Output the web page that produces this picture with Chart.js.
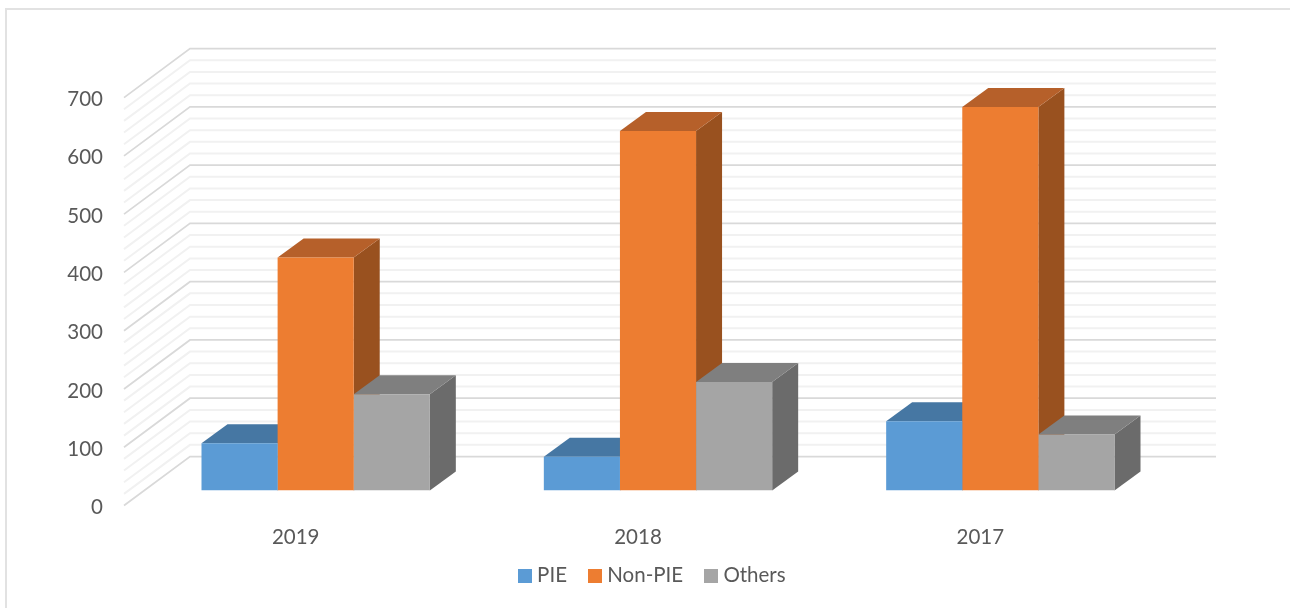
<!DOCTYPE html>
<html>
<head>
<meta charset="utf-8">
<style>
html,body{margin:0;padding:0;background:#fff;overflow:hidden}
#wrap{position:absolute;left:0;top:0;width:1290px;height:608px}
</style>
<script src="https://cdn.jsdelivr.net/npm/chart.js@4"></script>
</head>
<body>
<div id="wrap"><canvas id="c" width="1290" height="608"></canvas></div>
<script>
const categories = ['2019', '2018', '2017'];
const seriesNames = ['PIE', 'Non-PIE', 'Others'];
const pieValues = [81, 58, 119];
const nonPieValues = [400, 617, 658];
const otherValues = [165, 186, 96];
const frontColors = ['#5b9bd5', '#ed7d31', '#a5a5a5'];
const topColors = ['#4677a3', '#b6602a', '#7f7f7f'];
const sideColors = ['#3d678e', '#99511f', '#6b6b6b'];

const FONT = 'Lato, Carlito, sans-serif';
const TEXT = '#595959';

function swatch(color) {
  const s = document.createElement('canvas');
  s.width = 14; s.height = 14;
  const g = s.getContext('2d');
  g.fillStyle = color;
  g.fillRect(0, 0, 14, 14);
  return s;
}

function poly(ctx, pts, fill) {
  ctx.beginPath();
  ctx.moveTo(pts[0][0], pts[0][1]);
  for (let i = 1; i < pts.length; i++) ctx.lineTo(pts[i][0], pts[i][1]);
  ctx.closePath();
  ctx.fillStyle = fill;
  ctx.fill();
}

const perspective = {
  id: 'perspective',
  afterLayout(chart) {
    const lg = chart.legend;
    lg.left += 64.5; lg.right += 64.5;
    lg.top -= 12; lg.bottom -= 12;
  },
  beforeDatasetsDraw(chart) {
    const ctx = chart.ctx;
    const y = chart.scales.y;
    ctx.save();
    // outer frame of the chart
    ctx.strokeStyle = '#e2e2e2';
    ctx.lineWidth = 2;
    ctx.beginPath();
    ctx.moveTo(6, 608); ctx.lineTo(6, 9); ctx.lineTo(1290, 9);
    ctx.stroke();
    // walls: side wall + back wall gridlines at every scale tick
    y.ticks.slice().sort((a, b) => a.value - b.value).forEach(t => {
      const p = y.getPixelForValue(t.value);
      const major = t.value % 100 === 0;
      ctx.strokeStyle = major ? '#d9d9d9' : '#f1f1f1';
      ctx.lineWidth = major ? 1.75 : 2;
      ctx.beginPath();
      ctx.moveTo(124, p + 15);
      ctx.lineTo(190, p - 34);
      ctx.lineTo(1216, p - 34);
      ctx.stroke();
    });
    // bar depth faces
    const dx = 26, dy = 19;
    chart.data.datasets.forEach((ds, i) => {
      chart.getDatasetMeta(i).data.forEach(b => {
        const l = b.x - b.width / 2, r = b.x + b.width / 2;
        poly(ctx, [[r, b.y], [r + dx, b.y - dy], [r + dx, b.base - dy], [r, b.base]], sideColors[i]);
        poly(ctx, [[l, b.y], [l + dx, b.y - dy], [r + dx, b.y - dy], [r, b.y]], topColors[i]);
      });
    });
    ctx.restore();
  }
};

new Chart(document.getElementById('c'), {
  type: 'bar',
  plugins: [perspective],
  data: {
    labels: categories,
    datasets: [
      { label: seriesNames[0], data: pieValues, backgroundColor: frontColors[0] },
      { label: seriesNames[1], data: nonPieValues, backgroundColor: frontColors[1] },
      { label: seriesNames[2], data: otherValues, backgroundColor: frontColors[2] }
    ]
  },
  options: {
    responsive: false,
    animation: false,
    events: [],
    layout: { padding: { left: 8, right: 118.5, top: 82.6, bottom: 0 } },
    datasets: { bar: { categoryPercentage: 0.667, barPercentage: 1, borderWidth: 0 } },
    scales: {
      x: {
        grid: { display: false, drawTicks: false },
        border: { display: false },
        ticks: {
          color: TEXT, font: { family: FONT, size: 20.5 }, padding: 35,
          labelOffset: -20, maxRotation: 0
        },
        afterFit(s) { s.height = 61; }
      },
      y: {
        min: 0, max: 700,
        grid: { display: false, drawTicks: false },
        border: { display: false },
        ticks: {
          stepSize: 20, autoSkip: false, color: TEXT,
          font: { family: FONT, size: 20.5 }, padding: 41.5, labelOffset: 17,
          callback: v => (v % 100 === 0 ? String(v) : '')
        },
        afterFit(s) { s.width = 136.5; }
      }
    },
    plugins: {
      title: { display: false },
      tooltip: { enabled: false },
      legend: {
        position: 'bottom',
        labels: {
          color: TEXT,
          font: { family: FONT, size: 20.5 },
          padding: 26,
          usePointStyle: true,
          pointStyleWidth: 4,
          generateLabels(chart) {
            return Chart.defaults.plugins.legend.labels.generateLabels(chart).map((it, i) => {
              it.pointStyle = swatch(frontColors[i]);
              return it;
            });
          }
        }
      }
    }
  }
});
</script>
</body>
</html>
